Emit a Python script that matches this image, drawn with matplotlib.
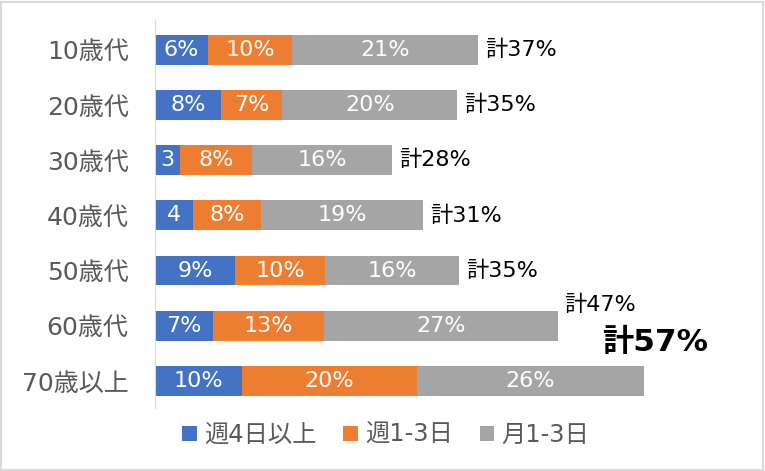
import numpy as np
import matplotlib.pyplot as plt
from matplotlib.patches import Rectangle

plt.rcParams['font.family'] = ['DejaVu Sans', 'Noto Sans CJK JP']

# ---- data ----
ages = ['10歳代', '20歳代', '30歳代', '40歳代', '50歳代', '60歳代', '70歳以上']
series = ['週4日以上', '週1-3日', '月1-3日']
week4 = [6.1, 7.6, 2.9, 4.35, 9.2, 6.6, 10.0]
week13 = [9.6, 7.0, 8.25, 7.8, 10.3, 12.8, 20.0]
month13 = [21.3, 20.0, 16.0, 18.6, 15.3, 26.7, 26.0]
week4_lbl = ['6%', '8%', '3', '4', '9%', '7%', '10%']
week13_lbl = ['10%', '7%', '8%', '8%', '10%', '13%', '20%']
month13_lbl = ['21%', '20%', '16%', '19%', '16%', '27%', '26%']
total_lbl = ['計37%', '計35%', '計28%', '計31%', '計35%', '計47%', '計57%']
colors = ['#4472C4', '#ED7D31', '#A5A5A5']

W, H = 765, 471
fig = plt.figure(figsize=(W / 100, H / 100), dpi=100)
ax = fig.add_axes([155 / W, 1 - 408 / H, 585 / W, 388 / H])

y = np.arange(len(ages))
left = np.zeros(len(ages))
for vals, lbls, c, name in zip([week4, week13, month13],
                               [week4_lbl, week13_lbl, month13_lbl],
                               colors, series):
    bars = ax.barh(y, vals, left=left, height=0.54, color=c, label=name)
    ax.bar_label(bars, labels=lbls, label_type='center', color='white',
                 fontsize=16)
    left = left + np.array(vals)

# totals at bar ends; 60s and 70s are moved by hand like the original
for i, (tot, txt) in enumerate(zip(left, total_lbl)):
    if i == 5:
        ax.annotate(txt, (tot, i), xytext=(5, 15), textcoords='offset points',
                    ha='left', va='center', fontsize=16, color='black')
    elif i == 6:
        ax.annotate(txt, (tot, i), xytext=(-30, 28), textcoords='offset points',
                    ha='left', va='center', fontsize=22.5, color='black',
                    fontweight='bold')
    else:
        ax.annotate(txt, (tot, i), xytext=(5, 0), textcoords='offset points',
                    ha='left', va='center', fontsize=16, color='black')

ax.set_xlim(0, 67)
ax.set_ylim(6.49, -0.54)
ax.set_yticks(y)
ax.set_yticklabels(ages, fontsize=18, color='#595959')
ax.tick_params(axis='y', length=0, pad=19)
ax.set_xticks([])
for s in ['top', 'right', 'bottom']:
    ax.spines[s].set_visible(False)
ax.spines['left'].set_color('#D9D9D9')

ax.legend(loc='center', bbox_to_anchor=(386 / W, 1 - 435 / H),
          bbox_transform=fig.transFigure, ncol=3, frameon=False,
          fontsize=17.5, labelcolor='#595959', handlelength=0.6,
          handleheight=0.6, handletextpad=0.3, columnspacing=1.1)

fig.patches.append(Rectangle((0.001, 0.002), 0.996, 0.994,
                             transform=fig.transFigure, fill=False,
                             edgecolor='#D9D9D9', linewidth=1.5))

fig.savefig('out.png', dpi=100)
